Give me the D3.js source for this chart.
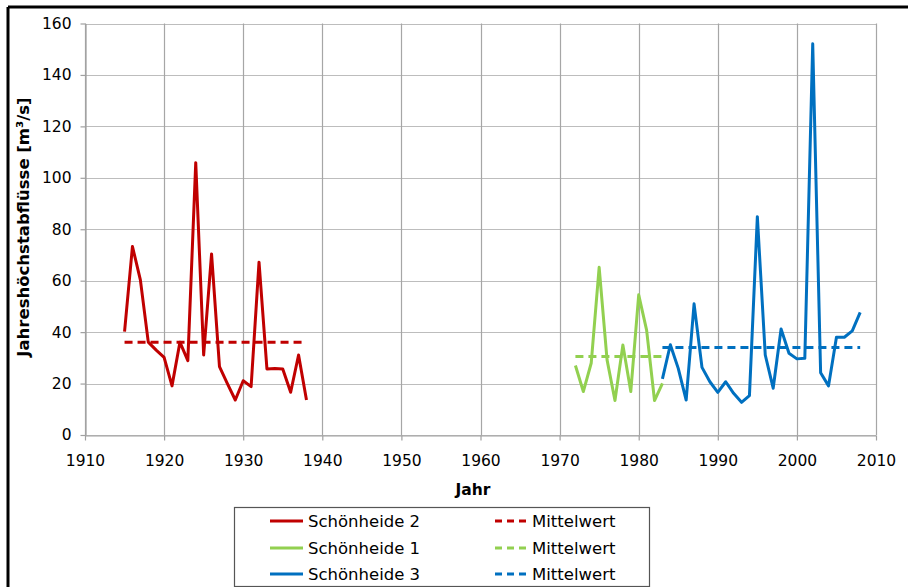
<!DOCTYPE html>
<html>
<head>
<meta charset="utf-8">
<script src="https://cdn.jsdelivr.net/npm/d3@7"></script>
<style>
  body { margin: 0; background: #fff; }
  text { font-family: "DejaVu Sans", Verdana, sans-serif; fill: #000; }
</style>
</head>
<body>
<script>
// Jahreshöchstabflüsse
var yearsS2 = d3.range(1915, 1939);
var valuesS2 = [40.2, 73.3, 60.3, 36.1, 33.0, 30.2, 19.1, 36.1, 28.9, 105.9, 31.1, 70.4,
                26.6, 20.0, 13.6, 21.1, 18.8, 67.2, 25.7, 25.9, 25.7, 16.6, 31.1, 13.6];
var yearsS1 = d3.range(1972, 1984);
var valuesS1 = [27.0, 16.9, 28.0, 65.2, 29.2, 13.4, 35.0, 16.9, 54.5, 40.8, 13.4, 20.1];
var yearsS3 = d3.range(1983, 2009);
var valuesS3 = [21.8, 35.1, 25.9, 13.6, 51.0, 26.3, 20.7, 16.6, 20.7, 16.2, 12.7, 15.3, 84.9,
                31.1, 18.2, 41.2, 31.8, 29.6, 29.8, 152.1, 24.2, 19.1, 38.0, 38.0, 40.5, 47.7];
var meanS2 = 36.1, meanS1 = 30.5, meanS3 = 34.0;

var xTicks = d3.range(1910, 2011, 10);
var yTicks = d3.range(0, 161, 20);

var legendNames = ["Schönheide 2", "Schönheide 1", "Schönheide 3"];
var meanLabel = "Mittelwert";

var series = [
  {name: legendNames[0], years: yearsS2, values: valuesS2, mean: meanS2, color: "#c00000"},
  {name: legendNames[1], years: yearsS1, values: valuesS1, mean: meanS1, color: "#92d050"},
  {name: legendNames[2], years: yearsS3, values: valuesS3, mean: meanS3, color: "#0070c0"}
];

var W = 908, H = 587;
var svg = d3.select("body").append("svg").attr("width", W).attr("height", H);

var x = d3.scaleLinear().domain([1910, 2010]).range([85, 876]);
var y = d3.scaleLinear().domain([0, 160]).range([435, 23.5]);

// outer frame (only top and left visible)
svg.append("line").attr("x1", 8).attr("x2", W).attr("y1", 7).attr("y2", 7)
  .attr("stroke", "#000").attr("stroke-width", 3);
svg.append("line").attr("x1", 8).attr("x2", 8).attr("y1", 7).attr("y2", H)
  .attr("stroke", "#000").attr("stroke-width", 3);

// gridlines
svg.append("g").selectAll("line").data(yTicks).enter().append("line")
  .attr("x1", x(1910)).attr("x2", x(2010))
  .attr("y1", function(d) { return Math.round(y(d)) + 0.5; })
  .attr("y2", function(d) { return Math.round(y(d)) + 0.5; })
  .attr("stroke", "#bdbdbd").attr("stroke-width", 1.2);
svg.append("g").selectAll("line").data(xTicks).enter().append("line")
  .attr("x1", function(d) { return Math.round(x(d)) + 0.5; })
  .attr("x2", function(d) { return Math.round(x(d)) + 0.5; })
  .attr("y1", y(160)).attr("y2", y(0))
  .attr("stroke", "#a6a6a6").attr("stroke-width", 1.2);

// axes
var xAxis = svg.append("g").attr("transform", "translate(0," + (Math.round(y(0)) + 0.5) + ")")
  .call(d3.axisBottom(x).tickValues(xTicks).tickFormat(d3.format("d")).tickSizeInner(5).tickSizeOuter(0).tickPadding(14));
var yAxis = svg.append("g").attr("transform", "translate(" + (Math.round(x(1910)) + 0.5) + ",0)")
  .call(d3.axisLeft(y).tickValues(yTicks).tickSizeInner(5).tickSizeOuter(0).tickPadding(9));
[xAxis, yAxis].forEach(function(a) {
  a.selectAll("path, line").attr("stroke", "#a0a0a0").attr("stroke-width", 1.2);
  a.selectAll("text").style("font-size", "15.5px").style("font-family", "DejaVu Sans, Verdana, sans-serif").attr("fill", "#000");
});

// axis titles
svg.append("text").attr("x", 473).attr("y", 495).attr("text-anchor", "middle")
  .style("font-size", "15.5px").style("font-weight", "bold").text("Jahr");
svg.append("text").attr("transform", "translate(29,227) rotate(-90)").attr("text-anchor", "middle")
  .style("font-size", "16.5px").style("font-weight", "bold").text("Jahreshöchstabflüsse [m³/s]");

// series lines and mean lines
var line = d3.line()
  .x(function(d) { return x(d[0]); })
  .y(function(d) { return y(d[1]); });

series.forEach(function(s) {
  svg.append("path")
    .datum([[s.years[0], s.mean], [s.years[s.years.length - 1], s.mean]])
    .attr("d", line).attr("fill", "none")
    .attr("stroke", s.color).attr("stroke-width", 3).attr("stroke-dasharray", "8,5");
});
series.forEach(function(s) {
  svg.append("path")
    .datum(d3.zip(s.years, s.values))
    .attr("d", line).attr("fill", "none")
    .attr("stroke", s.color).attr("stroke-width", 3).attr("stroke-linejoin", "round");
});

// legend
var lg = svg.append("g");
lg.append("rect").attr("x", 234.5).attr("y", 507.5).attr("width", 415).attr("height", 79)
  .attr("fill", "#fff").attr("stroke", "#555").attr("stroke-width", 1.2);
var rowsY = [521, 548, 574];
series.forEach(function(s, i) {
  lg.append("line").attr("x1", 270).attr("x2", 303).attr("y1", rowsY[i]).attr("y2", rowsY[i])
    .attr("stroke", s.color).attr("stroke-width", 3);
  lg.append("text").attr("x", 308).attr("y", rowsY[i]).attr("dy", "0.36em")
    .style("font-size", "16.5px").text(s.name);
  lg.append("line").attr("x1", 495).attr("x2", 527).attr("y1", rowsY[i]).attr("y2", rowsY[i])
    .attr("stroke", s.color).attr("stroke-width", 3).attr("stroke-dasharray", "7,5");
  lg.append("text").attr("x", 532).attr("y", rowsY[i]).attr("dy", "0.36em")
    .style("font-size", "16.5px").text(meanLabel);
});
</script>
</body>
</html>
